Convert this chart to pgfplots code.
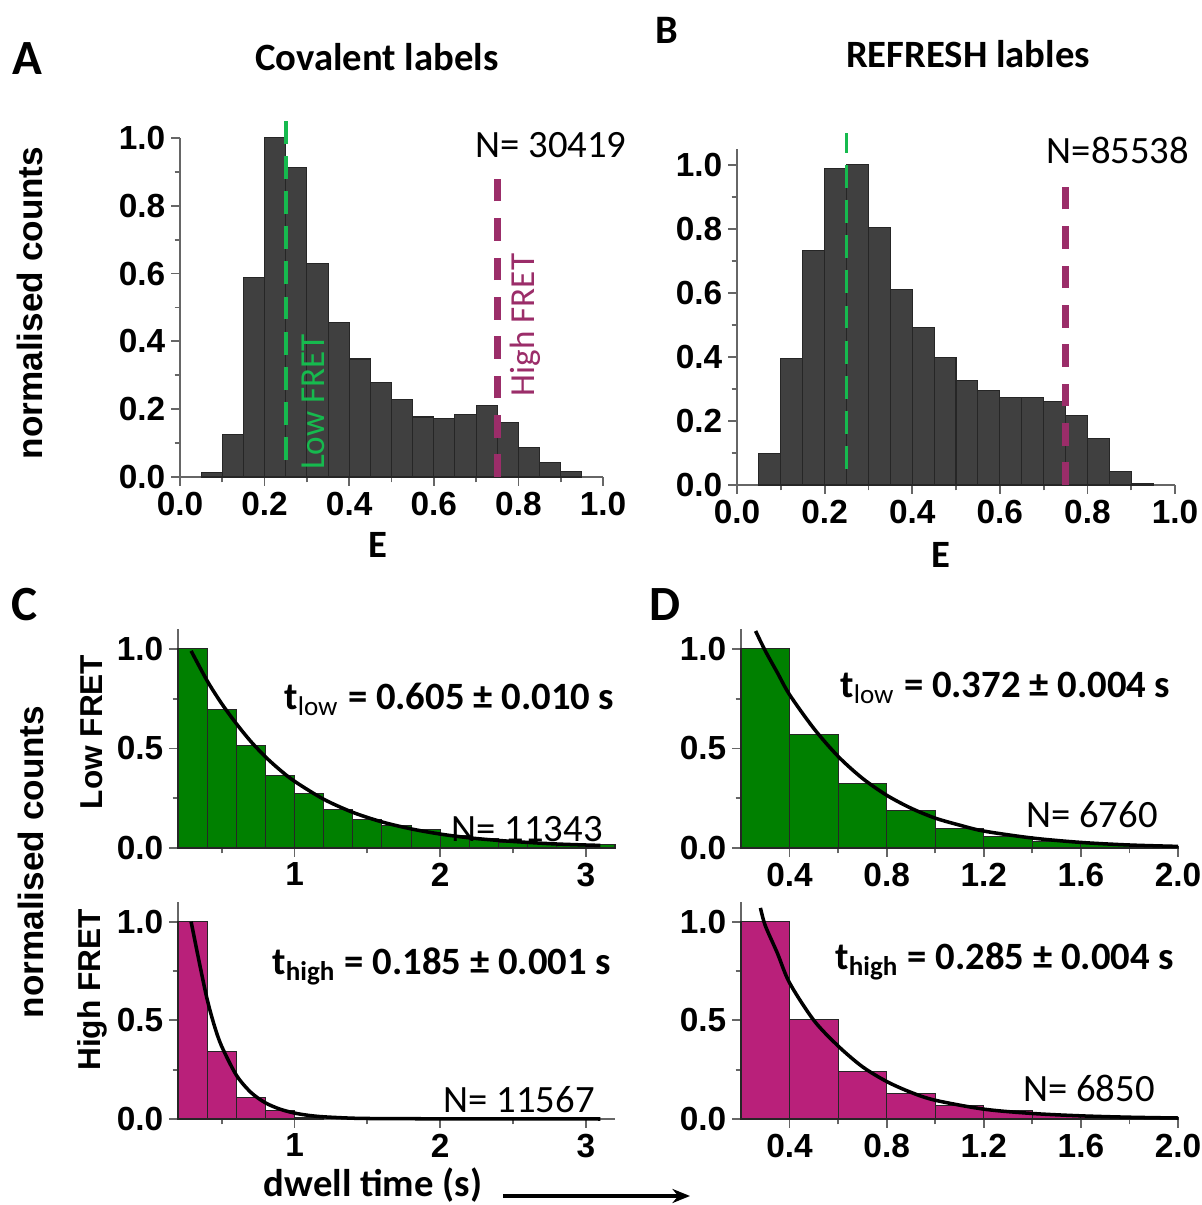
\documentclass[border=0pt]{standalone}
\usepackage{pgfplots}
\pgfplotsset{compat=1.18}
\usepackage{fontspec}
\setmainfont{Carlito}
\newfontfamily\arial{Liberation Sans}
\usetikzlibrary{arrows.meta}

\definecolor{histgray}{RGB}{64,64,64}
\definecolor{lowgreen}{RGB}{22,186,78}
\definecolor{highpurple}{RGB}{155,45,105}
\definecolor{bargreen}{RGB}{0,128,0}
\definecolor{barmagenta}{RGB}{185,32,122}

\pgfplotsset{
  panel/.style={
    scale only axis, anchor=south west, clip=false,
    axis lines*=left, tick align=outside,
    axis line style={black!60, line width=0.6pt},
    major tick style={black!60, line width=0.5pt},
    minor tick style={black!60, line width=0.5pt},
    major tick length=2.5pt, minor tick length=1.5pt,
    ticklabel style={font=\arial\bfseries\fontsize{9.5}{11}\selectfont, inner sep=1.5pt},
  },
  hist/.style={ybar interval, draw=black!85, line width=0.3pt},
  fit/.style={black, line width=1pt, smooth},
  lowline/.style={lowgreen, line width=1.1pt, dash pattern=on 6.5pt off 3.5pt},
  highline/.style={highpurple, line width=2pt, dash pattern=on 6.4pt off 4.8pt},
}

\begin{document}
\begin{tikzpicture}

% ---- A: covalent labels, FRET histogram
\begin{axis}[panel, at={(1.80cm,7.28cm)}, width=4.23cm, height=3.39cm,
  xmin=0, xmax=1, ymin=0, ymax=1,
  xtick={0,0.2,0.4,0.6,0.8,1}, xticklabels={0.0,0.2,0.4,0.6,0.8,1.0},
  ytick={0,0.2,0.4,0.6,0.8,1}, yticklabels={0.0,0.2,0.4,0.6,0.8,1.0},
  minor xtick={0.1,0.3,0.5,0.7,0.9}, minor ytick={0.1,0.3,0.5,0.7,0.9}]
\addplot[hist, fill=histgray] coordinates {
  (0.05,0.013) (0.10,0.126) (0.15,0.589) (0.20,1.000) (0.25,0.913)
  (0.30,0.631) (0.35,0.456) (0.40,0.348) (0.45,0.278) (0.50,0.229)
  (0.55,0.177) (0.60,0.172) (0.65,0.185) (0.70,0.211) (0.75,0.160)
  (0.80,0.087) (0.85,0.042) (0.90,0.015) (0.95,0)};
\addplot[lowline] coordinates {(0.25,0.05) (0.25,1.07)};
\addplot[highline] coordinates {(0.75,0) (0.75,0.88)};
\end{axis}

% ---- B: REFRESH labels, FRET histogram
\begin{axis}[panel, at={(7.37cm,7.20cm)}, width=4.38cm, height=3.36cm,
  xmin=0, xmax=1, ymin=0, ymax=1.05,
  xtick={0,0.2,0.4,0.6,0.8,1}, xticklabels={0.0,0.2,0.4,0.6,0.8,1.0},
  ytick={0,0.2,0.4,0.6,0.8,1}, yticklabels={0.0,0.2,0.4,0.6,0.8,1.0},
  minor xtick={0.1,0.3,0.5,0.7,0.9}, minor ytick={0.1,0.3,0.5,0.7,0.9}]
\addplot[hist, fill=histgray] coordinates {
  (0.05,0.099) (0.10,0.395) (0.15,0.734) (0.20,0.990) (0.25,1.000)
  (0.30,0.805) (0.35,0.611) (0.40,0.493) (0.45,0.397) (0.50,0.327)
  (0.55,0.296) (0.60,0.272) (0.65,0.272) (0.70,0.260) (0.75,0.218)
  (0.80,0.145) (0.85,0.042) (0.90,0.004) (0.95,0)};
\addplot[lowline] coordinates {(0.25,0.05) (0.25,1.10)};
\addplot[highline] coordinates {(0.75,0) (0.75,0.94)};
\end{axis}

% ---- C top: covalent, low FRET dwell times
\begin{axis}[panel, at={(1.78cm,3.57cm)}, width=4.37cm, height=2.19cm,
  xmin=0.2, xmax=3.2, ymin=0, ymax=1.1,
  xtick={1,2,3}, xticklabels={1,2,3}, minor xtick={0.5,1.5,2.5},
  ytick={0,0.5,1}, yticklabels={0.0,0.5,1.0}, minor ytick={0.25,0.75}]
\addplot[hist, fill=bargreen] coordinates {
  (0.2,1.000) (0.4,0.695) (0.6,0.514) (0.8,0.365) (1.0,0.276)
  (1.2,0.193) (1.4,0.142) (1.6,0.114) (1.8,0.092) (2.0,0.062)
  (2.2,0.050) (2.4,0.028) (2.6,0.022) (2.8,0.017) (3.0,0.017) (3.2,0)};
\addplot[fit] coordinates {
  (0.29,0.99) (0.4,0.84) (0.5,0.725) (0.6,0.625) (0.7,0.535) (0.8,0.458)
  (0.9,0.392) (1.0,0.335) (1.2,0.245) (1.4,0.179) (1.6,0.131) (1.8,0.096)
  (2.0,0.070) (2.2,0.051) (2.4,0.038) (2.6,0.028) (2.8,0.020) (3.0,0.015) (3.1,0.013)};
\end{axis}

% ---- C bottom: covalent, high FRET dwell times
\begin{axis}[panel, at={(1.78cm,0.86cm)}, width=4.37cm, height=2.17cm,
  xmin=0.2, xmax=3.2, ymin=0, ymax=1.1,
  xtick={1,2,3}, xticklabels={1,2,3}, minor xtick={0.5,1.5,2.5},
  ytick={0,0.5,1}, yticklabels={0.0,0.5,1.0}, minor ytick={0.25,0.75}]
\addplot[hist, fill=barmagenta] coordinates {
  (0.2,1.000) (0.4,0.342) (0.6,0.111) (0.8,0.042) (1.0,0.008) (1.2,0)};
\addplot[fit] coordinates {
  (0.29,1.0) (0.35,0.78) (0.4,0.607) (0.45,0.472) (0.5,0.368) (0.6,0.223)
  (0.7,0.135) (0.8,0.082) (0.9,0.050) (1.0,0.030) (1.1,0.018) (1.2,0.011)
  (1.4,0.004) (1.6,0.002) (2.0,0.001) (3.1,0.0)};
\end{axis}

% ---- D top: REFRESH, low FRET dwell times
\begin{axis}[panel, at={(7.41cm,3.57cm)}, width=4.37cm, height=2.19cm,
  xmin=0.2, xmax=2.0, ymin=0, ymax=1.1,
  xtick={0.4,0.8,1.2,1.6,2.0}, xticklabels={0.4,0.8,1.2,1.6,2.0},
  minor xtick={0.6,1.0,1.4,1.8},
  ytick={0,0.5,1}, yticklabels={0.0,0.5,1.0}, minor ytick={0.25,0.75}]
\addplot[hist, fill=bargreen] coordinates {
  (0.2,1.000) (0.4,0.570) (0.6,0.323) (0.8,0.189) (1.0,0.100)
  (1.2,0.059) (1.4,0.034) (1.6,0.022) (1.8,0.008) (2.0,0)};
\addplot[fit] coordinates {
  (0.26,1.09) (0.3,0.99) (0.35,0.88) (0.4,0.77) (0.5,0.60) (0.6,0.46)
  (0.7,0.35) (0.8,0.265) (0.9,0.20) (1.0,0.15) (1.1,0.115) (1.2,0.085)
  (1.4,0.05) (1.6,0.028) (1.8,0.015) (2.0,0.008)};
\end{axis}

% ---- D bottom: REFRESH, high FRET dwell times
\begin{axis}[panel, at={(7.41cm,0.86cm)}, width=4.37cm, height=2.17cm,
  xmin=0.2, xmax=2.0, ymin=0, ymax=1.1,
  xtick={0.4,0.8,1.2,1.6,2.0}, xticklabels={0.4,0.8,1.2,1.6,2.0},
  minor xtick={0.6,1.0,1.4,1.8},
  ytick={0,0.5,1}, yticklabels={0.0,0.5,1.0}, minor ytick={0.25,0.75}]
\addplot[hist, fill=barmagenta] coordinates {
  (0.2,1.000) (0.4,0.504) (0.6,0.242) (0.8,0.129) (1.0,0.068)
  (1.2,0.044) (1.4,0.022) (1.6,0.014) (1.8,0.005) (2.0,0)};
\addplot[fit] coordinates {
  (0.28,1.07) (0.3,0.98) (0.35,0.84) (0.4,0.69) (0.5,0.50) (0.6,0.37)
  (0.7,0.265) (0.8,0.19) (0.9,0.135) (1.0,0.095) (1.2,0.05) (1.4,0.028)
  (1.6,0.016) (1.8,0.009) (2.0,0.005)};
\end{axis}

% ---- text
\newcommand\letterfont{\bfseries\fontsize{14}{16}\selectfont}
\node[font=\letterfont] at (0.27,11.46) {A};
\node[font=\bfseries\fontsize{11.5}{13}\selectfont] at (6.67,11.75) {B};
\node[font=\letterfont] at (0.25,6.00) {C};
\node[font=\letterfont] at (6.65,6.00) {D};
\node[font=\bfseries\fontsize{11}{13}\selectfont] at (3.77,11.48) {Covalent labels};
\node[font=\bfseries\fontsize{11}{13}\selectfont] at (9.68,11.51) {REFRESH lables};
\node[font=\fontsize{11}{13}\selectfont] at (5.51,10.60) {N= 30419};
\node[font=\fontsize{11}{13}\selectfont] at (11.18,10.55) {N=85538};
\node[font=\fontsize{10}{12}\selectfont, text=lowgreen, rotate=90] at (3.13,8.03) {Low FRET};
\node[font=\fontsize{10}{12}\selectfont, text=highpurple, rotate=90] at (5.25,8.80) {High FRET};
\node[font=\bfseries\fontsize{11}{13}\selectfont] at (3.78,6.60) {E};
\node[font=\bfseries\fontsize{11}{13}\selectfont] at (9.41,6.50) {E};
\node[font=\arial\bfseries\fontsize{10}{12}\selectfont, rotate=90] at (0.30,9.02) {normalised counts};
\node[font=\arial\bfseries\fontsize{10}{12}\selectfont, rotate=90] at (0.31,3.43) {normalised counts};
\node[font=\arial\bfseries\fontsize{9}{11}\selectfont, rotate=90] at (0.92,4.73) {Low FRET};
\node[font=\arial\bfseries\fontsize{9}{11}\selectfont, rotate=90] at (0.92,2.15) {High FRET};
\node[font=\bfseries\fontsize{11}{13}\selectfont, inner sep=0pt] at (3.73,0.20) {dwell time (s)};
\draw[-{Stealth[length=5pt,width=4pt]}, line width=1.2pt] (5.03,0.09) -- (6.90,0.09);

\newcommand\tfont{\bfseries\fontsize{11}{13}\selectfont}
\node[font=\tfont, anchor=base west] at (2.72,4.95) {t\textsubscript{\mdseries low} = 0.605 ± 0.010 s};
\node[font=\tfont, anchor=base west] at (8.28,5.07) {t\textsubscript{\mdseries low} = 0.372 ± 0.004 s};
\node[font=\tfont, anchor=base west] at (2.60,2.30) {t\textsubscript{high} = 0.185 ± 0.001 s};
\node[font=\tfont, anchor=base west] at (8.23,2.35) {t\textsubscript{high} = 0.285 ± 0.004 s};
\node[font=\fontsize{11}{13}\selectfont, anchor=base east] at (6.15,3.63) {N= 11343};
\node[font=\fontsize{11}{13}\selectfont, anchor=base east] at (11.70,3.77) {N= 6760};
\node[font=\fontsize{11}{13}\selectfont, anchor=base east] at (6.07,0.92) {N= 11567};
\node[font=\fontsize{11}{13}\selectfont, anchor=base east] at (11.67,1.03) {N= 6850};

% fix the page to the reference frame
\pgfresetboundingbox
\path[use as bounding box] (0,0) rectangle (12.01,12.05);
\end{tikzpicture}
\end{document}
